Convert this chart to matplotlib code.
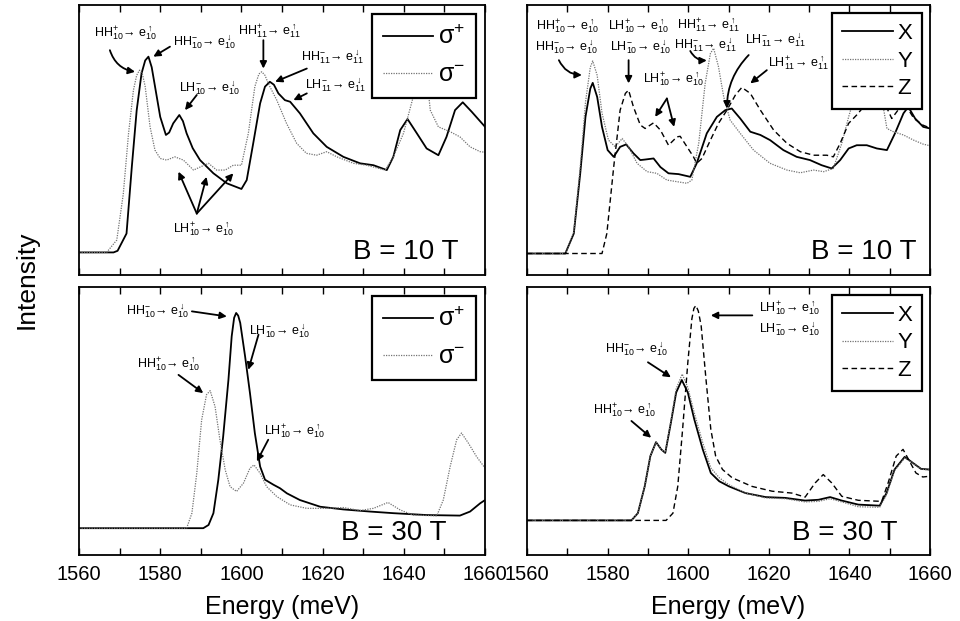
import matplotlib
matplotlib.use("Agg")
import matplotlib.pyplot as plt

plt.rcParams['font.family'] = ['Liberation Sans', 'DejaVu Sans']
plt.rcParams['mathtext.fontset'] = 'custom'
plt.rcParams['mathtext.rm'] = 'Liberation Sans'
plt.rcParams['mathtext.it'] = 'Liberation Sans:italic'
plt.rcParams['mathtext.bf'] = 'Liberation Sans:bold'
plt.rcParams['mathtext.fallback'] = 'stixsans'

# ---- data (intensity in arbitrary units, 0..1 of panel height) ----
# top left, B = 10 T, circular polarisation
tl_plus_e = [1560, 1568.5, 1569.5, 1571.7, 1573.0, 1574.2, 1575.4, 1576.3, 1577.1, 1577.9, 1578.7,
             1580.0, 1581.4, 1582.2, 1583.2, 1584.7, 1585.6, 1586.5, 1588.0, 1589.8, 1593.1, 1596.4,
             1600.0, 1601.3, 1602.9, 1604.6, 1605.8, 1607.0, 1608.0, 1609.1, 1610.7, 1612.0, 1614.4,
             1617.7, 1621.0, 1625.1, 1629.2, 1632.5, 1635.8, 1637.4, 1639.1, 1640.9, 1643.2, 1645.6,
             1648.5, 1650.5, 1652.6, 1654.5, 1656.7, 1660]
tl_plus_i = [0.084, 0.084, 0.090, 0.154, 0.400, 0.610, 0.747, 0.795, 0.809, 0.770, 0.700,
             0.586, 0.519, 0.528, 0.562, 0.593, 0.570, 0.525, 0.470, 0.426, 0.377, 0.340,
             0.319, 0.352, 0.488, 0.636, 0.698, 0.716, 0.705, 0.673, 0.648, 0.642, 0.599,
             0.525, 0.475, 0.438, 0.414, 0.407, 0.389, 0.438, 0.537, 0.578, 0.525, 0.469,
             0.444, 0.512, 0.611, 0.640, 0.605, 0.549]
tl_minus_e = [1560, 1566.8, 1569.3, 1570.9, 1572.2, 1573.4, 1574.2, 1574.9, 1575.6, 1576.3, 1577.5,
              1578.7, 1580.0, 1581.6, 1583.6, 1585.7, 1588.2, 1589.8, 1591.9, 1593.9, 1596.0, 1598.0,
              1600.0, 1601.7, 1603.3, 1604.3, 1605.0, 1605.8, 1606.6, 1608.7, 1611.1, 1613.6, 1616.0,
              1618.5, 1621.0, 1623.5, 1627.6, 1630.8, 1635.4, 1637.4, 1639.9, 1642.3, 1644.0, 1645.2,
              1646.5, 1648.5, 1651.4, 1653.8, 1656.3, 1658.8, 1660]
tl_minus_i = [0.084, 0.084, 0.130, 0.300, 0.525, 0.685, 0.740, 0.759, 0.745, 0.698, 0.549,
              0.463, 0.432, 0.426, 0.438, 0.426, 0.389, 0.400, 0.414, 0.389, 0.389, 0.407,
              0.407, 0.525, 0.698, 0.745, 0.753, 0.740, 0.710, 0.648, 0.562, 0.488, 0.451,
              0.444, 0.457, 0.438, 0.414, 0.407, 0.389, 0.438, 0.525, 0.660, 0.770, 0.800,
              0.611, 0.549, 0.531, 0.512, 0.475, 0.457, 0.455]

# top right, B = 10 T, linear polarisation
tr_x_e = [1560, 1569.5, 1571.6, 1573.2, 1574.5, 1575.7, 1576.3, 1577.4, 1578.6, 1580.0, 1581.5,
          1583.1, 1584.6, 1586.4, 1588.1, 1589.3, 1591.4, 1593.1, 1595.1, 1597.6, 1600.5, 1602.1,
          1604.6, 1607.1, 1609.2, 1610.8, 1612.9, 1615.4, 1617.9, 1620.3, 1623.6, 1626.9, 1630.2,
          1633.1, 1635.6, 1637.7, 1639.8, 1641.8, 1644.3, 1646.8, 1649.3, 1651.3, 1653.4, 1654.6,
          1656.3, 1658.3, 1660]
tr_x_i = [0.080, 0.080, 0.154, 0.377, 0.586, 0.691, 0.712, 0.660, 0.549, 0.463, 0.438,
          0.475, 0.484, 0.451, 0.426, 0.428, 0.432, 0.400, 0.377, 0.374, 0.364, 0.414,
          0.525, 0.586, 0.611, 0.617, 0.580, 0.531, 0.519, 0.500, 0.463, 0.438, 0.426,
          0.407, 0.395, 0.426, 0.469, 0.481, 0.481, 0.469, 0.463, 0.525, 0.599, 0.623,
          0.580, 0.549, 0.543]
tr_y_e = [1560, 1569.5, 1571.6, 1573.2, 1574.5, 1575.7, 1576.3, 1577.4, 1578.6, 1580.2, 1581.9,
          1583.6, 1585.2, 1587.3, 1589.8, 1592.2, 1594.7, 1597.2, 1599.7, 1600.9, 1602.6, 1604.2,
          1605.5, 1606.3, 1607.5, 1608.8, 1610.4, 1612.9, 1616.2, 1620.3, 1624.5, 1627.8, 1631.1,
          1633.6, 1636.0, 1638.1, 1639.8, 1641.0, 1643.5, 1645.5, 1647.5, 1649.3, 1650.9, 1653.4,
          1655.9, 1658.3, 1660]
tr_y_i = [0.080, 0.080, 0.160, 0.400, 0.640, 0.770, 0.793, 0.740, 0.600, 0.500, 0.475,
          0.506, 0.475, 0.414, 0.383, 0.377, 0.352, 0.346, 0.340, 0.352, 0.488, 0.710,
          0.821, 0.840, 0.772, 0.660, 0.574, 0.525, 0.463, 0.414, 0.389, 0.379, 0.389,
          0.383, 0.395, 0.488, 0.586, 0.648, 0.780, 0.840, 0.700, 0.543, 0.531, 0.519,
          0.500, 0.485, 0.479]
tr_z_e = [1560, 1578.6, 1579.8, 1581.5, 1583.1, 1584.4, 1585.2, 1586.4, 1588.1, 1589.3, 1591.4,
          1593.1, 1595.1, 1597.2, 1598.0, 1599.7, 1601.3, 1602.1, 1603.4, 1605.5, 1607.5, 1609.6,
          1611.7, 1613.3, 1615.4, 1617.9, 1621.2, 1624.5, 1627.8, 1631.1, 1634.4, 1636.0, 1637.7,
          1639.8, 1641.8, 1643.5, 1645.5, 1648.0, 1650.5, 1653.5, 1656.0, 1658.3, 1660]
tr_z_i = [0.080, 0.080, 0.154, 0.400, 0.611, 0.673, 0.685, 0.623, 0.556, 0.543, 0.564,
          0.537, 0.481, 0.512, 0.514, 0.475, 0.438, 0.414, 0.432, 0.500, 0.562, 0.611,
          0.667, 0.695, 0.673, 0.611, 0.537, 0.488, 0.457, 0.444, 0.444, 0.438, 0.488,
          0.562, 0.593, 0.623, 0.700, 0.660, 0.580, 0.640, 0.580, 0.555, 0.545]

# bottom left, B = 30 T, circular polarisation
bl_plus_e = [1560, 1590.6, 1591.9, 1593.1, 1594.3, 1595.5, 1596.8, 1597.6, 1598.2, 1598.7, 1599.2,
             1599.7, 1600.9, 1602.1, 1603.3, 1604.6, 1605.8, 1607.9, 1609.5, 1611.2, 1614.4, 1619.4,
             1625.1, 1631.7, 1637.4, 1645.6, 1653.8, 1656.3, 1658.8, 1660]
bl_plus_i = [0.100, 0.100, 0.112, 0.156, 0.280, 0.442, 0.654, 0.816, 0.885, 0.903, 0.893,
             0.866, 0.741, 0.604, 0.455, 0.330, 0.281, 0.262, 0.249, 0.230, 0.205, 0.180,
             0.170, 0.162, 0.156, 0.149, 0.147, 0.162, 0.193, 0.205]
bl_minus_e = [1560, 1586.5, 1587.8, 1589.0, 1590.2, 1591.4, 1592.3, 1593.5, 1594.7, 1596.0, 1597.2,
              1598.8, 1600.5, 1602.1, 1603.1, 1604.6, 1606.2, 1608.7, 1612.0, 1616.1, 1621.0, 1625.1,
              1629.2, 1632.5, 1636.1, 1639.1, 1642.3, 1648.1, 1649.7, 1651.4, 1653.0, 1654.2, 1655.9,
              1657.9, 1660]
bl_minus_i = [0.100, 0.100, 0.156, 0.305, 0.504, 0.598, 0.613, 0.554, 0.430, 0.318, 0.255,
              0.237, 0.268, 0.324, 0.336, 0.305, 0.255, 0.218, 0.187, 0.174, 0.174, 0.177,
              0.166, 0.174, 0.196, 0.168, 0.149, 0.146, 0.205, 0.330, 0.430, 0.455, 0.417,
              0.367, 0.324]

# bottom right, B = 30 T, linear polarisation
br_x_e = [1560, 1585.9, 1587.5, 1589.2, 1590.6, 1592.0, 1593.3, 1594.3, 1595.7, 1597.0, 1598.4,
          1599.9, 1601.5, 1603.6, 1605.6, 1607.7, 1610.1, 1614.2, 1619.2, 1624.1, 1629.0, 1632.3,
          1635.2, 1638.1, 1642.2, 1647.5, 1649.2, 1651.2, 1653.7, 1655.7, 1657.8, 1660]
br_x_i = [0.129, 0.129, 0.156, 0.256, 0.369, 0.421, 0.394, 0.381, 0.494, 0.606, 0.653,
          0.606, 0.506, 0.394, 0.306, 0.275, 0.256, 0.231, 0.216, 0.213, 0.203, 0.206,
          0.216, 0.203, 0.188, 0.184, 0.231, 0.319, 0.366, 0.344, 0.321, 0.319]
br_y_e = [1560, 1585.9, 1587.5, 1589.2, 1590.6, 1592.0, 1593.3, 1594.3, 1595.7, 1597.0, 1598.5,
          1599.9, 1601.5, 1603.6, 1605.6, 1607.7, 1610.1, 1614.2, 1619.2, 1624.1, 1629.0, 1632.3,
          1635.2, 1638.1, 1642.2, 1647.5, 1649.2, 1651.2, 1653.7, 1655.7, 1657.8, 1660]
br_y_i = [0.129, 0.129, 0.156, 0.256, 0.369, 0.421, 0.394, 0.383, 0.500, 0.620, 0.675,
          0.625, 0.530, 0.419, 0.325, 0.288, 0.262, 0.231, 0.213, 0.210, 0.198, 0.200,
          0.210, 0.198, 0.180, 0.178, 0.225, 0.315, 0.362, 0.344, 0.320, 0.317]
br_z_e = [1560, 1594.5, 1596.2, 1597.4, 1598.6, 1599.9, 1600.9, 1601.4, 1601.9, 1602.5, 1603.2,
          1604.4, 1605.6, 1606.8, 1608.5, 1610.9, 1615.8, 1620.8, 1625.7, 1629.0, 1631.5, 1633.5,
          1635.6, 1638.1, 1642.2, 1648.0, 1649.6, 1651.6, 1653.3, 1654.9, 1656.5, 1658.2, 1660]
br_z_i = [0.129, 0.129, 0.156, 0.256, 0.469, 0.719, 0.881, 0.920, 0.931, 0.910, 0.856,
          0.656, 0.469, 0.369, 0.319, 0.288, 0.256, 0.238, 0.231, 0.216, 0.269, 0.300,
          0.269, 0.219, 0.204, 0.200, 0.269, 0.369, 0.394, 0.350, 0.306, 0.291, 0.294]

ticks_major = [1560, 1580, 1600, 1620, 1640, 1660]
ticks_minor = [1570, 1590, 1610, 1630, 1650]

SOLID = dict(color='black', lw=1.3, ls='-')
DOT = dict(color='0.45', lw=0.9, ls=(0, (1, 1)))
DASH = dict(color='black', lw=1.0, ls=(0, (4, 2.5)))
ANN_FS = 9


def trans(band, hs, n, es):
    arr = {'u': r'\uparrow', 'd': r'\downarrow'}[es]
    return (r'$\mathrm{%s}^{%s}_{%s}\!\rightarrow\,\mathrm{e}^{%s}_{%s}$'
            % (band, hs, n, arr, n))


def arrow(ax, start, end, rad=0.0):
    ax.annotate('', xy=end, xytext=start,
                arrowprops=dict(arrowstyle='-|>', color='black', lw=1.3,
                                mutation_scale=10, shrinkA=0, shrinkB=0,
                                connectionstyle='arc3,rad=%s' % rad))


def label(ax, x, y, s):
    ax.text(x, y, s, fontsize=ANN_FS, ha='center', va='center')


def style_axes(ax, bottom):
    ax.set_xlim(1560, 1660)
    ax.set_ylim(0, 1)
    ax.set_yticks([])
    ax.set_xticks(ticks_major)
    ax.set_xticks(ticks_minor, minor=True)
    ax.tick_params(axis='x', which='both', direction='in', top=True, bottom=True,
                   length=5, width=1.0, labelsize=14.5, pad=7)
    if not bottom:
        ax.tick_params(axis='x', labelbottom=False)
    else:
        ax.set_xlabel('Energy (meV)', fontsize=18, labelpad=8)
    for sp in ax.spines.values():
        sp.set_linewidth(1.3)


def add_legend(ax, handles, labels, fs, spacing, hlen):
    leg = ax.legend(handles, labels, loc='upper right', fontsize=fs, handlelength=hlen,
                    frameon=True, fancybox=False, borderaxespad=0.35, handletextpad=0.2,
                    labelspacing=spacing, borderpad=0.45, framealpha=1.0)
    leg.get_frame().set_edgecolor('black')
    leg.get_frame().set_linewidth(1.6)
    leg.set_zorder(5)


SIG_LABELS = [r'$\mathrm{\sigma}^{+}$', r'$\mathrm{\sigma}^{-}$']

fig = plt.figure(figsize=(9.6, 6.21), dpi=100)
ax_tl = fig.add_axes([0.0823, 0.557, 0.423, 0.4348])
ax_tr = fig.add_axes([0.549, 0.557, 0.4198, 0.4348])
ax_bl = fig.add_axes([0.0823, 0.1063, 0.423, 0.4316])
ax_br = fig.add_axes([0.549, 0.1063, 0.4198, 0.4316])

# ---- top left ----
ax = ax_tl
l1, = ax.plot(tl_plus_e, tl_plus_i, **SOLID)
l2, = ax.plot(tl_minus_e, tl_minus_i, **DOT)
add_legend(ax, [l1, l2], SIG_LABELS, 18, 0.55, 2.0)
label(ax, 1571.5, 0.895, trans('HH', '+', '10', 'u'))
arrow(ax, (1567.6, 0.833), (1573.8, 0.753), rad=0.3)
label(ax, 1591.0, 0.864, trans('HH', '-', '10', 'd'))
arrow(ax, (1582.4, 0.846), (1578.3, 0.809))
label(ax, 1607.0, 0.901, trans('HH', '+', '11', 'u'))
arrow(ax, (1605.4, 0.870), (1605.4, 0.765))
label(ax, 1622.5, 0.809, trans('HH', '-', '11', 'd'))
arrow(ax, (1616.1, 0.765), (1608.3, 0.716))
label(ax, 1592.1, 0.691, trans('LH', '-', '10', 'd'))
arrow(ax, (1589.0, 0.667), (1586.1, 0.611))
label(ax, 1623.3, 0.704, trans('LH', '-', '11', 'd'))
arrow(ax, (1616.1, 0.673), (1612.8, 0.648))
label(ax, 1590.6, 0.167, trans('LH', '+', '10', 'u'))
for tip in [(1584.5, 0.383), (1591.4, 0.364), (1598.0, 0.377)]:
    arrow(ax, (1589.0, 0.228), tip)
ax.text(1653.4, 0.06, 'B = 10 T', fontsize=20, ha='right', va='baseline')
style_axes(ax, False)

# ---- top right ----
ax = ax_tr
l1, = ax.plot(tr_x_e, tr_x_i, **SOLID)
l2, = ax.plot(tr_y_e, tr_y_i, **DOT)
l3, = ax.plot(tr_z_e, tr_z_i, **DASH)
add_legend(ax, [l1, l2, l3], ['X', 'Y', 'Z'], 16, 0.3, 2.3)
label(ax, 1570.1, 0.920, trans('HH', '+', '10', 'u'))
label(ax, 1569.8, 0.846, trans('HH', '-', '10', 'd'))
arrow(ax, (1567.9, 0.796), (1573.6, 0.741), rad=0.3)
label(ax, 1587.7, 0.920, trans('LH', '+', '10', 'u'))
label(ax, 1588.1, 0.846, trans('LH', '-', '10', 'd'))
arrow(ax, (1585.2, 0.796), (1585.2, 0.710))
label(ax, 1605.1, 0.922, trans('HH', '+', '11', 'u'))
label(ax, 1604.4, 0.852, trans('HH', '-', '11', 'd'))
arrow(ax, (1600.5, 0.830), (1604.6, 0.795), rad=0.3)
label(ax, 1596.4, 0.722, trans('LH', '+', '10', 'u'))
arrow(ax, (1594.7, 0.654), (1591.8, 0.586))
arrow(ax, (1594.7, 0.654), (1596.5, 0.549))
label(ax, 1621.6, 0.870, trans('LH', '-', '11', 'd'))
arrow(ax, (1615.0, 0.815), (1609.6, 0.617), rad=0.2)
label(ax, 1627.4, 0.784, trans('LH', '+', '11', 'u'))
arrow(ax, (1619.5, 0.759), (1615.4, 0.710))
ax.text(1656.7, 0.06, 'B = 10 T', fontsize=20, ha='right', va='baseline')
style_axes(ax, False)

# ---- bottom left ----
ax = ax_bl
l1, = ax.plot(bl_plus_e, bl_plus_i, **SOLID)
l2, = ax.plot(bl_minus_e, bl_minus_i, **DOT)
add_legend(ax, [l1, l2], SIG_LABELS, 18, 0.55, 2.0)
label(ax, 1579.3, 0.909, trans('HH', '-', '10', 'd'))
arrow(ax, (1587.8, 0.909), (1596.4, 0.890))
label(ax, 1609.5, 0.834, trans('LH', '-', '10', 'd'))
arrow(ax, (1604.2, 0.822), (1601.7, 0.691))
label(ax, 1582.0, 0.710, trans('HH', '+', '10', 'u'))
arrow(ax, (1584.5, 0.672), (1590.6, 0.604))
label(ax, 1613.2, 0.461, trans('LH', '+', '10', 'u'))
arrow(ax, (1606.6, 0.430), (1603.8, 0.349))
ax.text(1650.6, 0.056, 'B = 30 T', fontsize=20, ha='right', va='baseline')
style_axes(ax, True)

# ---- bottom right ----
ax = ax_br
l1, = ax.plot(br_x_e, br_x_i, **SOLID)
l2, = ax.plot(br_y_e, br_y_i, **DOT)
l3, = ax.plot(br_z_e, br_z_i, **DASH)
add_legend(ax, [l1, l2, l3], ['X', 'Y', 'Z'], 16, 0.3, 2.3)
label(ax, 1625.1, 0.919, trans('LH', '+', '10', 'u'))
label(ax, 1625.1, 0.844, trans('LH', '-', '10', 'd'))
arrow(ax, (1615.9, 0.894), (1605.6, 0.894))
label(ax, 1587.1, 0.769, trans('HH', '-', '10', 'd'))
arrow(ax, (1590.0, 0.719), (1595.7, 0.663))
label(ax, 1584.2, 0.538, trans('HH', '+', '10', 'u'))
arrow(ax, (1585.9, 0.500), (1590.8, 0.4375))
ax.text(1652.0, 0.056, 'B = 30 T', fontsize=20, ha='right', va='baseline')
style_axes(ax, True)

fig.text(0.028, 0.55, 'Intensity', rotation=90, fontsize=19, ha='center', va='center')

fig.savefig('out.png', dpi=100)
